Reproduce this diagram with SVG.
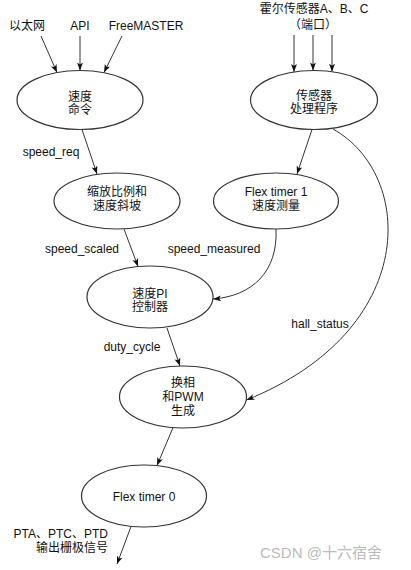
<svg xmlns="http://www.w3.org/2000/svg" width="411" height="570" viewBox="0 0 411 570">
<style>
text{font-family:"Liberation Sans","Noto Sans CJK SC",Arial,sans-serif;font-size:12px;fill:#111}
.c{text-anchor:middle}
.n ellipse{fill:#fff;stroke:#333;stroke-width:1.2}
.e{fill:none;stroke:#333;stroke-width:1;marker-end:url(#ah)}
.wm{fill:#bbb;font-size:15px}
</style>
<defs>
<marker id="ah" markerUnits="userSpaceOnUse" markerWidth="9" markerHeight="7" refX="8" refY="3" orient="auto">
<path d="M0,0 L8,3 L0,6 L2,3 z" fill="#111"/>
</marker>
</defs>
<rect width="411" height="570" fill="#fff"/>
<g id="inputs">
<text class="c" x="27" y="30">以太网</text>
<text class="c" x="80" y="30">API</text>
<text class="c" x="146" y="30">FreeMASTER</text>
<text class="c" x="314" y="13">霍尔传感器A、B、C</text>
<text class="c" x="313" y="28.5">（端口）</text>
</g>
<g id="connectors">
<line class="e" x1="41" y1="36" x2="57" y2="72.5"/>
<line class="e" x1="80" y1="36" x2="80" y2="70.5"/>
<line class="e" x1="122" y1="36" x2="104" y2="72.5"/>
<line class="e" x1="294" y1="35" x2="294" y2="72"/>
<line class="e" x1="313" y1="35" x2="313" y2="70.5"/>
<line class="e" x1="332" y1="35" x2="332" y2="71.7"/>
<line class="e" x1="82" y1="129.5" x2="97" y2="174"/>
<line class="e" x1="312" y1="129.5" x2="297" y2="174"/>
<line class="e" x1="124" y1="229" x2="138" y2="266.5"/>
<path class="e" d="M276,229 C278,272 252,296 213,299"/>
<line class="e" x1="167" y1="328" x2="180" y2="366"/>
<path class="e" d="M333,129 C415,175 420,330 246.5,400"/>
<line class="e" x1="173" y1="427.6" x2="157" y2="465.5"/>
<line class="e" x1="131" y1="526.5" x2="117" y2="564"/>
<text class="c" x="51" y="156">speed_req</text>
<text class="c" x="82" y="253">speed_scaled</text>
<text class="c" x="214" y="253">speed_measured</text>
<text class="c" x="320" y="328">hall_status</text>
<text class="c" x="132" y="351">duty_cycle</text>
<text x="108" y="538" text-anchor="end">PTA、PTC、PTD</text>
<text x="108" y="552" text-anchor="end">输出栅极信号</text>
</g>
<g id="n1" class="n">
<ellipse cx="80" cy="100" rx="63" ry="29.5"/>
<text class="c" x="80" y="101">速度</text>
<text class="c" x="80" y="114">命令</text>
</g>
<g id="n2" class="n">
<ellipse cx="314" cy="100" rx="63.5" ry="29.5"/>
<text class="c" x="314" y="99.5">传感器</text>
<text class="c" x="314" y="112.5">处理程序</text>
</g>
<g id="n3" class="n">
<ellipse cx="117" cy="201" rx="63" ry="28"/>
<text class="c" x="117" y="196">缩放比例和</text>
<text class="c" x="117" y="210">速度斜坡</text>
</g>
<g id="n4" class="n">
<ellipse cx="276" cy="201" rx="62.5" ry="28"/>
<text class="c" x="276" y="196">Flex timer 1</text>
<text class="c" x="276" y="210">速度测量</text>
</g>
<g id="n5" class="n">
<ellipse cx="150" cy="297" rx="63" ry="31"/>
<text class="c" x="150" y="298">速度PI</text>
<text class="c" x="150" y="311">控制器</text>
</g>
<g id="n6" class="n">
<ellipse cx="183" cy="397" rx="63.5" ry="31"/>
<text class="c" x="183" y="387">换相</text>
<text class="c" x="183" y="401">和PWM</text>
<text class="c" x="183" y="415">生成</text>
</g>
<g id="n7" class="n">
<ellipse cx="144" cy="496" rx="62.5" ry="31"/>
<text class="c" x="144" y="501">Flex timer 0</text>
</g>
<text class="wm" x="260" y="558">CSDN @十六宿舍</text>
</svg>
